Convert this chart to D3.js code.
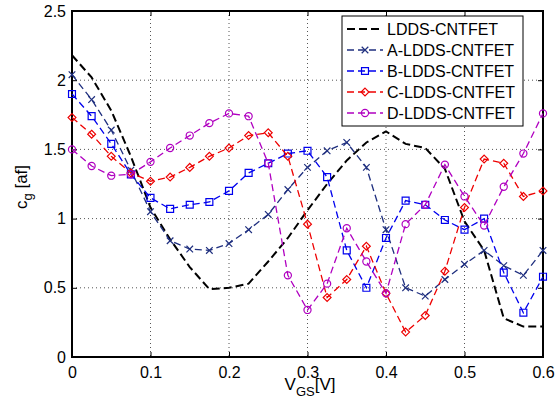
<!DOCTYPE html>
<html>
<head>
<meta charset="utf-8">
<script src="https://cdn.jsdelivr.net/npm/d3@7"></script>
<style>
body { margin: 0; background: #fff; }
text { font-family: Arial, "Liberation Sans", Helvetica, sans-serif; }
</style>
</head>
<body>
<script>
// gate voltage samples
var vgs = [0, 0.025, 0.05, 0.075, 0.1, 0.125, 0.15, 0.175, 0.2, 0.225, 0.25, 0.275, 0.3,
    0.325, 0.35, 0.375, 0.4, 0.425, 0.45, 0.475, 0.5, 0.525, 0.55, 0.575, 0.6];

var lddsVals = [2.18, 2.02, 1.78, 1.45, 1.08, 0.85, 0.65, 0.49, 0.50, 0.53, 0.69, 0.86, 1.06,
    1.25, 1.42, 1.55, 1.63, 1.54, 1.51, 1.36, 0.98, 0.77, 0.28, 0.22, 0.22];
var aVals = [2.04, 1.86, 1.64, 1.35, 1.05, 0.84, 0.78, 0.77, 0.82, 0.92, 1.03, 1.21, 1.37,
    1.49, 1.55, 1.37, 0.92, 0.50, 0.44, 0.56, 0.67, 0.77, 0.66, 0.59, 0.77];
var bVals = [1.90, 1.74, 1.54, 1.32, 1.15, 1.07, 1.10, 1.12, 1.20, 1.33, 1.40, 1.47, 1.49,
    1.30, 0.77, 0.50, 0.86, 1.13, 1.10, 0.99, 0.92, 1.00, 0.61, 0.32, 0.58];
var cVals = [1.73, 1.61, 1.45, 1.33, 1.27, 1.30, 1.37, 1.45, 1.51, 1.60, 1.62, 1.45, 0.96,
    0.43, 0.56, 0.80, 0.46, 0.18, 0.30, 0.62, 1.08, 1.43, 1.40, 1.16, 1.20];
var dVals = [1.50, 1.38, 1.31, 1.32, 1.41, 1.51, 1.60, 1.69, 1.76, 1.74, 1.40, 0.59, 0.34,
    0.53, 0.93, 0.69, 0.46, 0.96, 1.10, 1.39, 1.16, 0.95, 1.23, 1.47, 1.76];

var seriesNames = ["LDDS-CNTFET", "A-LDDS-CNTFET", "B-LDDS-CNTFET", "C-LDDS-CNTFET", "D-LDDS-CNTFET"];
var xTicks = [0, 0.1, 0.2, 0.3, 0.4, 0.5, 0.6];
var yTicks = [0, 0.5, 1, 1.5, 2, 2.5];

//matlab style square diamond
var symbolRhomb = {
    draw: function(ctx, size){
        var r = Math.sqrt(size) * 0.62;
        ctx.moveTo(0, -r);
        ctx.lineTo(r, 0);
        ctx.lineTo(0, r);
        ctx.lineTo(-r, 0);
        ctx.closePath();
    }
};

var styles = [
    {color: "#000000", marker: null, width: 2, dash: "8,4"},
    {color: "#1f2f7f", marker: d3.symbolTimes, size: 30, width: 1.3, dash: "7,4"},
    {color: "#0000ee", marker: d3.symbolSquare, size: 48, width: 1.3, dash: "7,4"},
    {color: "#ee0000", marker: symbolRhomb, size: 40, width: 1.3, dash: "7,4"},
    {color: "#b000c0", marker: d3.symbolCircle, size: 40, width: 1.3, dash: "7,4"}
];
var allVals = [lddsVals, aVals, bVals, cVals, dVals];

var width = 558, height = 406;
var plotLeft = 72, plotRight = 543, plotTop = 11, plotBottom = 357;

var svg = d3.select("body").append("svg")
    .attr("width", width)
    .attr("height", height);

var x = d3.scaleLinear().domain([0, 0.6]).range([plotLeft, plotRight]);
var y = d3.scaleLinear().domain([0, 2.5]).range([plotBottom, plotTop]);

//dotted grid
svg.append("g").selectAll("line")
    .data(xTicks.slice(1, -1))
    .enter().append("line")
    .attr("x1", function(d){ return x(d); })
    .attr("x2", function(d){ return x(d); })
    .attr("y1", plotTop).attr("y2", plotBottom)
    .attr("stroke", "#555").attr("stroke-width", 1)
    .attr("stroke-dasharray", "1,3");
svg.append("g").selectAll("line")
    .data(yTicks.slice(1, -1))
    .enter().append("line")
    .attr("y1", function(d){ return y(d); })
    .attr("y2", function(d){ return y(d); })
    .attr("x1", plotLeft).attr("x2", plotRight)
    .attr("stroke", "#555").attr("stroke-width", 1)
    .attr("stroke-dasharray", "1,3");

//axes with inward ticks
svg.append("g")
    .attr("transform", "translate(0," + plotBottom + ")")
    .call(d3.axisBottom(x).tickValues(xTicks).tickSizeInner(-5).tickSizeOuter(0).tickPadding(10)
        .tickFormat(d3.format("")));
svg.append("g")
    .attr("transform", "translate(" + plotLeft + ",0)")
    .call(d3.axisLeft(y).tickValues(yTicks).tickSizeInner(-5).tickSizeOuter(0).tickPadding(6)
        .tickFormat(d3.format("")));
svg.append("g")
    .attr("transform", "translate(0," + plotTop + ")")
    .call(d3.axisTop(x).tickValues(xTicks).tickSizeInner(-5).tickSizeOuter(0).tickFormat(""));
svg.append("g")
    .attr("transform", "translate(" + plotRight + ",0)")
    .call(d3.axisRight(y).tickValues(yTicks).tickSizeInner(-5).tickSizeOuter(0).tickFormat(""));

svg.selectAll(".tick text")
    .attr("font-size", 16)
    .attr("font-family", "Arial, 'Liberation Sans', sans-serif")
    .attr("fill", "#000");
svg.selectAll(".domain").attr("stroke", "none");
svg.selectAll(".tick line").attr("stroke", "#000").attr("stroke-width", 1);

//frame
svg.append("rect")
    .attr("x", plotLeft).attr("y", plotTop)
    .attr("width", plotRight - plotLeft).attr("height", plotBottom - plotTop)
    .attr("fill", "none").attr("stroke", "#000").attr("stroke-width", 2);

//series
var line = d3.line()
    .x(function(d){ return x(d[0]); })
    .y(function(d){ return y(d[1]); });

allVals.forEach(function(vals, i){
    var st = styles[i];
    var pts = vgs.map(function(v, j){ return [v, vals[j]]; });
    svg.append("path")
        .datum(pts)
        .attr("d", line)
        .attr("fill", "none")
        .attr("stroke", st.color)
        .attr("stroke-width", st.width)
        .attr("stroke-dasharray", st.dash);
    if (st.marker) {
        svg.append("g").selectAll("path")
            .data(pts)
            .enter().append("path")
            .attr("transform", function(d){ return "translate(" + x(d[0]) + "," + y(d[1]) + ")"; })
            .attr("d", d3.symbol().type(st.marker).size(st.size))
            .attr("fill", "none")
            .attr("stroke", st.color)
            .attr("stroke-width", 1.2);
    }
});

//legend
var legend = svg.append("g");
legend.append("rect")
    .attr("x", 342).attr("y", 16)
    .attr("width", 181).attr("height", 110)
    .attr("fill", "#fff").attr("stroke", "#000").attr("stroke-width", 1);
seriesNames.forEach(function(name, i){
    var st = styles[i];
    var ly = 29 + i * 21;
    legend.append("line")
        .attr("x1", 347).attr("x2", 383)
        .attr("y1", ly).attr("y2", ly)
        .attr("stroke", st.color).attr("stroke-width", st.width)
        .attr("stroke-dasharray", st.dash);
    if (st.marker) {
        legend.append("path")
            .attr("transform", "translate(365," + ly + ")")
            .attr("d", d3.symbol().type(st.marker).size(st.size))
            .attr("fill", "none").attr("stroke", st.color).attr("stroke-width", 1.2);
    }
    legend.append("text")
        .attr("x", 387).attr("y", ly + 6)
        .attr("font-size", 16)
        .text(name);
});

//axis labels
var yl = svg.append("text")
    .attr("transform", "translate(27,187) rotate(-90)")
    .attr("text-anchor", "middle")
    .attr("font-size", 17);
yl.append("tspan").text("c");
yl.append("tspan").attr("dy", 5).attr("font-size", 13).text("g");
yl.append("tspan").attr("dy", -5).text(" [af]");

var xl = svg.append("text")
    .attr("x", 310).attr("y", 390)
    .attr("text-anchor", "middle")
    .attr("font-size", 17);
xl.append("tspan").text("V");
xl.append("tspan").attr("dy", 6).attr("font-size", 13).text("GS");
xl.append("tspan").attr("dy", -6).text("[V]");
</script>
</body>
</html>
